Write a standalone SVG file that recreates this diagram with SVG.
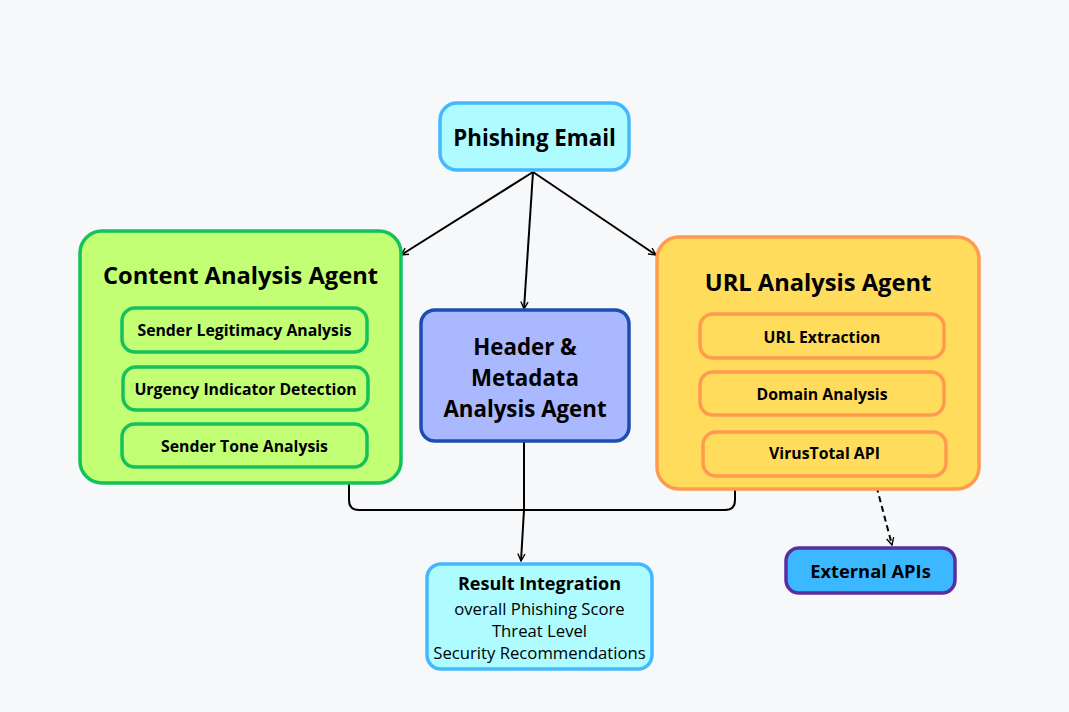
<svg xmlns="http://www.w3.org/2000/svg" width="1069" height="712" viewBox="0 0 1069 712">
<defs>
<style>
text{font-family:"Open Sans","Liberation Sans",sans-serif;fill:#000;text-anchor:middle;dominant-baseline:central}
.b{font-weight:700}
.t22{font-size:22.3px;font-weight:700}
.t24{font-size:23.7px;font-weight:700}
.t15{font-size:15.8px;font-weight:700}
.t16{font-size:16.7px}
.con{fill:none;stroke:#000;stroke-width:2}
.green{fill:#c2ff75;stroke:#13c25c;stroke-width:3.5}
.orange{fill:#ffdc5c;stroke:#ff9a50;stroke-width:3.5}
.cyan{fill:#aefcff;stroke:#44b8ff;stroke-width:3.5}
</style>
<marker id="ah" viewBox="0 0 10 10" refX="9" refY="5" markerWidth="9" markerHeight="9" markerUnits="userSpaceOnUse" orient="auto"><path d="M1 1 L9 5 L1 9" fill="none" stroke="#000" stroke-width="1.5"/></marker>
</defs>
<rect width="1069" height="712" fill="#f7f8fa"/>
<g id="connectors">
<line class="con" x1="533" y1="172" x2="401" y2="255" marker-end="url(#ah)"/>
<line class="con" x1="533" y1="172" x2="524" y2="309" marker-end="url(#ah)"/>
<line class="con" x1="533" y1="172" x2="656" y2="255" marker-end="url(#ah)"/>
<path class="con" d="M349 484 V500 Q349 510 359 510 H725 Q735 510 735 500 V490"/>
<path class="con" d="M524 442 V510 L521 561" marker-end="url(#ah)"/>
<line class="con" x1="874" y1="477" x2="892" y2="545" stroke-dasharray="6 4" marker-end="url(#ah)"/>
</g>
<g id="phishing-email">
<rect class="cyan" x="440" y="103" width="189" height="67" rx="17"/>
<text class="t22" x="534.5" y="137">Phishing Email</text>
</g>
<g id="content-analysis-agent">
<rect class="green" x="80" y="231" width="321" height="252" rx="22"/>
<text class="t24" x="240.5" y="275">Content Analysis Agent</text>
<g id="sender-legitimacy"><rect class="green" x="122" y="308" width="245" height="44" rx="13"/><text class="t15" x="244.5" y="330">Sender Legitimacy Analysis</text></g>
<g id="urgency-indicator"><rect class="green" x="123" y="367" width="245" height="43" rx="13"/><text class="t15" x="245.5" y="389">Urgency Indicator Detection</text></g>
<g id="sender-tone"><rect class="green" x="122" y="424" width="245" height="43" rx="13"/><text class="t15" x="244.5" y="446">Sender Tone Analysis</text></g>
</g>
<g id="header-metadata-agent">
<rect x="421" y="310" width="208" height="131" rx="14" fill="#aab8ff" stroke="#1a4fb0" stroke-width="3.5"/>
<text class="t22" x="525" y="346">Header &amp;</text>
<text class="t22" x="525" y="377">Metadata</text>
<text class="t22" x="525" y="408">Analysis Agent</text>
</g>
<g id="url-analysis-agent">
<rect class="orange" x="657" y="237" width="322" height="252" rx="22"/>
<text class="t24" x="818" y="282">URL Analysis Agent</text>
<g id="url-extraction"><rect class="orange" x="700" y="314" width="244" height="44" rx="13"/><text class="t15" x="822" y="337">URL Extraction</text></g>
<g id="domain-analysis"><rect class="orange" x="700" y="372" width="244" height="43" rx="13"/><text class="t15" x="822" y="394">Domain Analysis</text></g>
<g id="virustotal-api"><rect class="orange" x="703" y="432" width="243" height="44" rx="13"/><text class="t15" x="824.5" y="453">VirusTotal API</text></g>
</g>
<g id="result-integration">
<rect class="cyan" x="427" y="564" width="225" height="105" rx="14"/>
<text class="b" x="539.5" y="583" font-size="18">Result Integration</text>
<text class="t16" x="539.5" y="608">overall Phishing Score</text>
<text class="t16" x="539.5" y="630">Threat Level</text>
<text class="t16" x="539.5" y="652">Security Recommendations</text>
</g>
<g id="external-apis">
<rect x="786" y="548" width="169" height="45" rx="13" fill="#3bb8ff" stroke="#5a2ea0" stroke-width="3.5"/>
<text class="b" x="870.5" y="570" font-size="18.3">External APIs</text>
</g>
</svg>
